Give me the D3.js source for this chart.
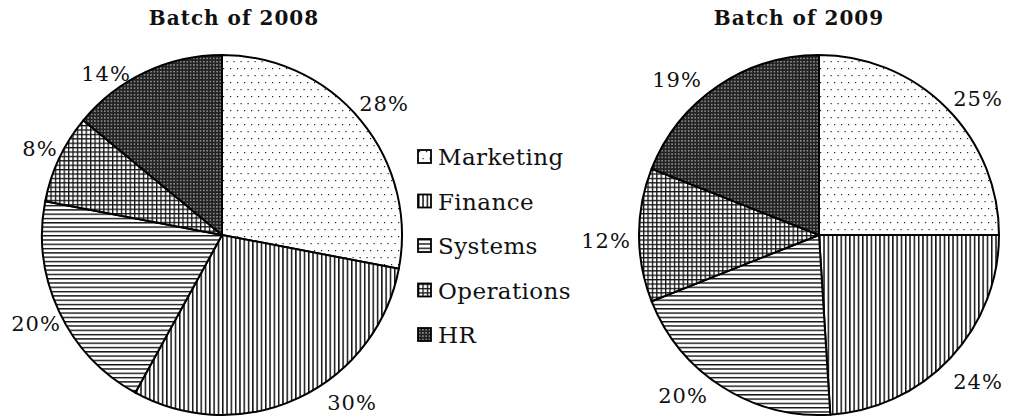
<!DOCTYPE html>
<html>
<head>
<meta charset="utf-8">
<script src="https://cdn.jsdelivr.net/npm/d3@7"></script>
<style>
  body { margin: 0; background: #fff; }
  text { font-family: "DejaVu Serif", serif; fill: #111; }
</style>
</head>
<body>
<div id="chartspace"></div>
<script>
var categories = ["Marketing", "Finance", "Systems", "Operations", "HR"];
var titles = ["Batch of 2008", "Batch of 2009"];
var batch2008 = [28, 30, 20, 8, 14];
var batch2009 = [25, 24, 20, 12, 19];

// where each % label sits, relative to pie centre (hand placed like the original)
var labelOffsets = [
    [[162, -132], [130, 167], [-186, 88], [-182, -87], [-116, -162]],
    [[159, -137], [159, 146], [-136, 160], [-213, 5], [-142, -156]]
];

var width = 1010, height = 418, radius = 180;
var centres = [[222, 235], [819, 235]];

var svg = d3.select("#chartspace").append("svg")
    .attr("width", width)
    .attr("height", height);

var defs = svg.append("defs");

// fill patterns, one per category
var pDots = defs.append("pattern").attr("id", "pat0")
    .attr("patternUnits", "userSpaceOnUse").attr("width", 7).attr("height", 14);
pDots.append("rect").attr("width", 7).attr("height", 14).attr("fill", "#fff");
pDots.append("rect").attr("x", 1).attr("y", 1).attr("width", 1.2).attr("height", 1.2).attr("fill", "#222");
pDots.append("rect").attr("x", 4.5).attr("y", 8).attr("width", 1.2).attr("height", 1.2).attr("fill", "#222");

var pVert = defs.append("pattern").attr("id", "pat1")
    .attr("patternUnits", "userSpaceOnUse").attr("width", 4.3).attr("height", 4.3);
pVert.append("rect").attr("width", 4.3).attr("height", 4.3).attr("fill", "#fff");
pVert.append("rect").attr("width", 1.5).attr("height", 4.3).attr("fill", "#111");

var pHoriz = defs.append("pattern").attr("id", "pat2")
    .attr("patternUnits", "userSpaceOnUse").attr("width", 4.3).attr("height", 4.3);
pHoriz.append("rect").attr("width", 4.3).attr("height", 4.3).attr("fill", "#fff");
pHoriz.append("rect").attr("width", 4.3).attr("height", 1.4).attr("fill", "#111");

var pGrid = defs.append("pattern").attr("id", "pat3")
    .attr("patternUnits", "userSpaceOnUse").attr("width", 4.4).attr("height", 4.4);
pGrid.append("rect").attr("width", 4.4).attr("height", 4.4).attr("fill", "#fff");
pGrid.append("rect").attr("width", 1.3).attr("height", 4.4).attr("fill", "#111");
pGrid.append("rect").attr("width", 4.4).attr("height", 1.3).attr("fill", "#111");

var pDark = defs.append("pattern").attr("id", "pat4")
    .attr("patternUnits", "userSpaceOnUse").attr("width", 3.3).attr("height", 3.3);
pDark.append("rect").attr("width", 3.3).attr("height", 3.3).attr("fill", "#222");
pDark.append("rect").attr("x", 1).attr("y", 1).attr("width", 1.2).attr("height", 1.2).attr("fill", "#ddd");

var fill = d3.scaleOrdinal()
    .domain(categories)
    .range(categories.map(function (c, i) { return "url(#pat" + i + ")"; }));

var pie = d3.pie().sort(null).value(function (d) { return d.value; });
var arc = d3.arc().innerRadius(0).outerRadius(radius);

[batch2008, batch2009].forEach(function (values, k) {
    var data = categories.map(function (c, i) { return { label: c, value: values[i] }; });

    var g = svg.append("g")
        .attr("transform", "translate(" + centres[k][0] + "," + centres[k][1] + ")");

    g.selectAll("path")
        .data(pie(data))
        .enter().append("path")
        .attr("d", arc)
        .attr("fill", function (d) { return fill(d.data.label); })
        .attr("stroke", "#000")
        .attr("stroke-width", 2)
        .attr("stroke-linejoin", "round");

    g.selectAll("text.pct")
        .data(pie(data))
        .enter().append("text")
        .attr("class", "pct")
        .attr("x", function (d, i) { return labelOffsets[k][i][0]; })
        .attr("y", function (d, i) { return labelOffsets[k][i][1]; })
        .attr("dy", "0.36em")
        .attr("text-anchor", "middle")
        .style("font-size", "21px")
        .style("letter-spacing", "1px")
        .text(function (d) { return d.data.value + "%"; });

    svg.append("text")
        .attr("x", centres[k][0] + (k == 0 ? 12 : -20))
        .attr("y", 25)
        .attr("text-anchor", "middle")
        .style("font-size", "20px")
        .style("font-weight", "bold")
        .style("letter-spacing", "1px")
        .text(titles[k]);
});

// legend in the middle
var legend = svg.append("g").attr("transform", "translate(418,150)");
var row = legend.selectAll("g")
    .data(categories)
    .enter().append("g")
    .attr("transform", function (d, i) { return "translate(0," + (i * 44.5) + ")"; });

row.append("rect")
    .attr("width", 13)
    .attr("height", 13)
    .attr("fill", function (d) { return fill(d); })
    .attr("stroke", "#000")
    .attr("stroke-width", 1.8);

row.append("text")
    .attr("x", 20)
    .attr("y", 15)
    .style("font-size", "23px")
    .style("letter-spacing", "0.4px")
    .text(function (d) { return d; });
</script>
</body>
</html>
